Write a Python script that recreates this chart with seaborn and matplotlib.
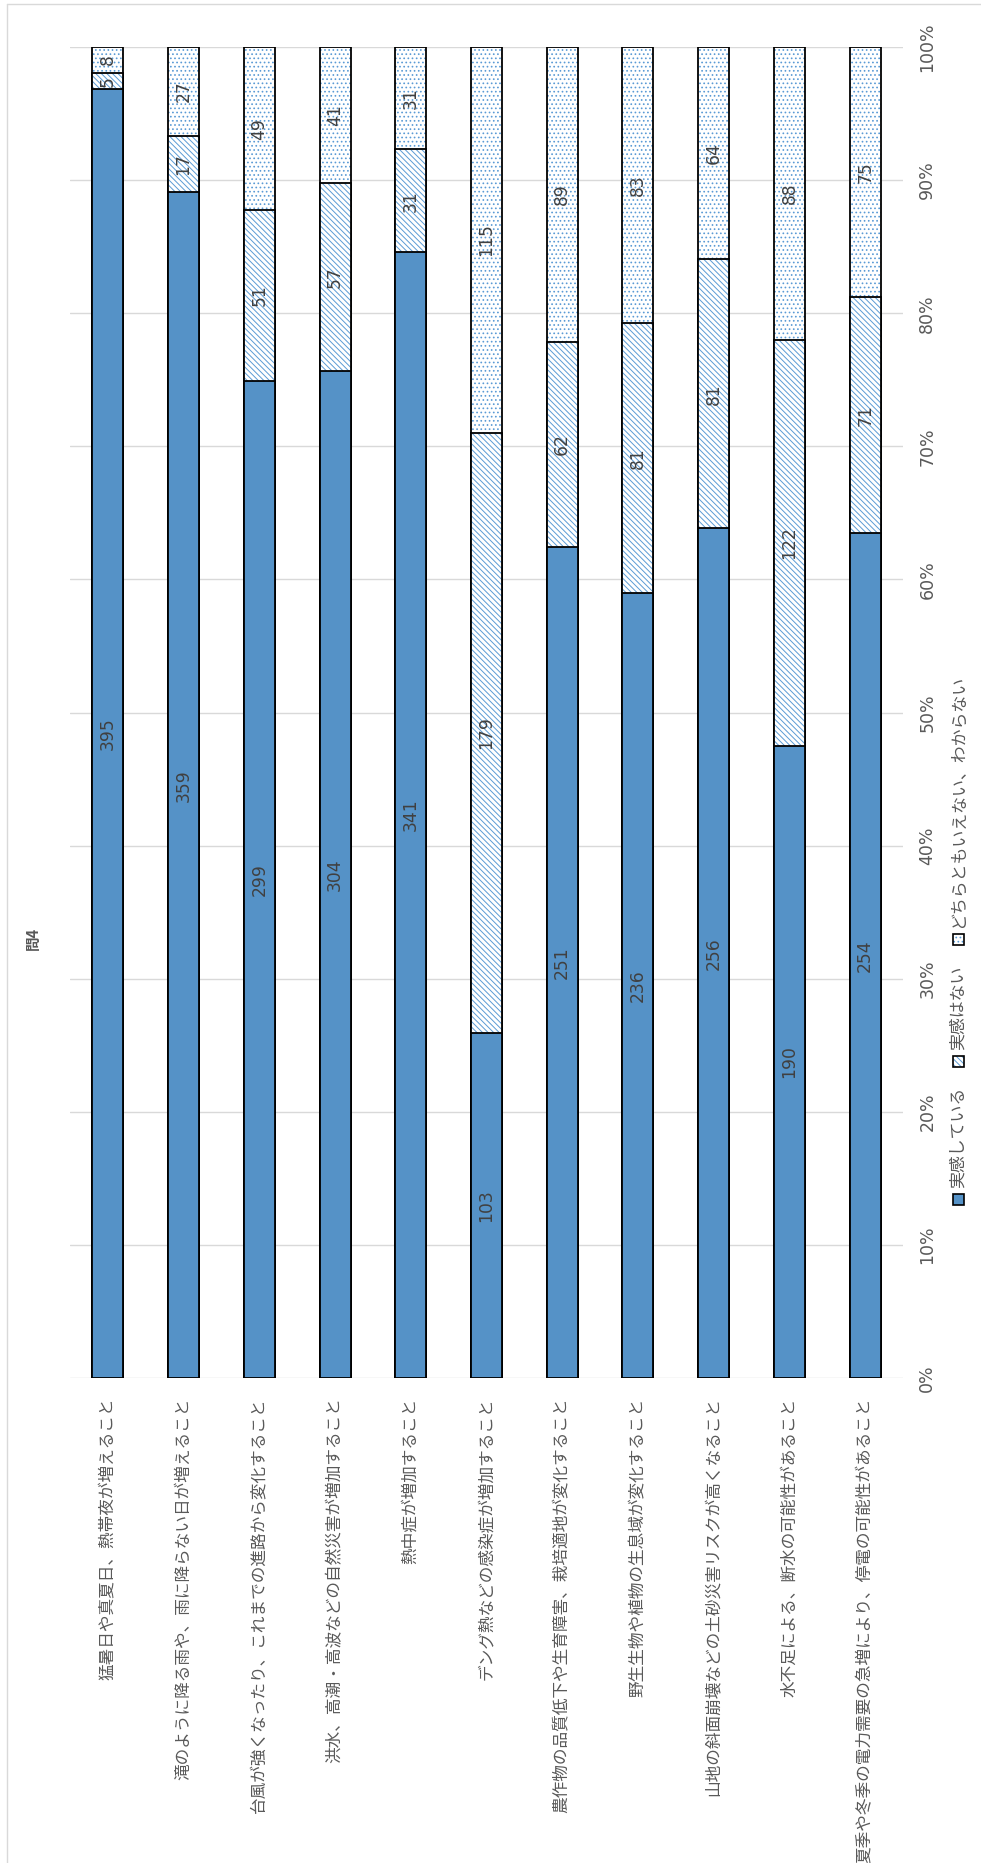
import matplotlib
matplotlib.use("Agg")
import matplotlib.pyplot as plt
import numpy as np
import pandas as pd
import seaborn as sns
from matplotlib.patches import Rectangle
from matplotlib.lines import Line2D

# ---- data -------------------------------------------------------------
title = "問4"
categories = [
    "猛暑日や真夏日、熱帯夜が増えること",
    "滝のように降る雨や、雨に降らない日が増えること",
    "台風が強くなったり、これまでの進路から変化すること",
    "洪水、高潮・高波などの自然災害が増加すること",
    "熱中症が増加すること",
    "デング熱などの感染症が増加すること",
    "農作物の品質低下や生育障害、栽培適地が変化すること",
    "野生生物や植物の生息域が変化すること",
    "山地の斜面崩壊などの土砂災害リスクが高くなること",
    "水不足による、断水の可能性があること",
    "夏季や冬季の電力需要の急増により、停電の可能性があること",
]
felt = [395, 359, 299, 304, 341, 103, 251, 236, 256, 190, 254]
not_felt = [5, 17, 51, 57, 31, 179, 62, 81, 81, 122, 71]
unsure = [8, 27, 49, 41, 31, 115, 89, 83, 64, 88, 75]
series_names = ["実感している", "実感はない", "どちらともいえない、わからない"]
pct_ticks = [0, 10, 20, 30, 40, 50, 60, 70, 80, 90, 100]

# ---- style ------------------------------------------------------------
sns.set_theme(style="white")
plt.rcParams["font.family"] = ["Noto Sans CJK JP", "DejaVu Sans"]
plt.rcParams["hatch.linewidth"] = 0.7

BLUE = "#5592C7"
HATCH = "#5B9BD5"
TEXT = "#595959"
LABEL = "#404040"
GRID = "#D9D9D9"

W, H, DPI = 981, 1863, 100
fig = plt.figure(figsize=(W / DPI, H / DPI), dpi=DPI)
fig.patch.set_facecolor("white")

def fx(px):
    return px / W

def fy(py):
    return 1 - py / H

# plot area in pixel coordinates
L, R, T, B = 70, 903, 47, 1378
ax = fig.add_axes([fx(L), fy(B), fx(R - L), (B - T) / H])

df = pd.DataFrame({"category": categories, "felt": felt,
                   "not_felt": not_felt, "unsure": unsure})
df["total"] = df[["felt", "not_felt", "unsure"]].sum(axis=1)
df["p1"] = df["felt"] / df["total"] * 100
df["p2"] = (df["felt"] + df["not_felt"]) / df["total"] * 100
df["p3"] = (df["felt"] + df["not_felt"] + df["unsure"]) / df["total"] * 100

BW = 0.41
DIAG = "\\\\\\\\\\\\"
DOTS = "...."
layers = [("p3", "white", DOTS), ("p2", "white", DIAG), ("p1", BLUE, None)]
for col, face, hatch in layers:
    if hatch:
        sns.barplot(data=df, x="category", y=col, ax=ax, width=BW,
                    color=face, saturation=1, edgecolor=HATCH,
                    linewidth=0, hatch=hatch, errorbar=None)
    else:
        sns.barplot(data=df, x="category", y=col, ax=ax, width=BW,
                    color=face, saturation=1, linewidth=0, errorbar=None)
    # black outline of the segment stack
    sns.barplot(data=df, x="category", y=col, ax=ax, width=BW,
                color="black", fill=False, linewidth=1.3, errorbar=None)

# value labels centred in each segment
for i, row in df.iterrows():
    bounds = [0, row["p1"], row["p2"], row["p3"]]
    vals = [row["felt"], row["not_felt"], row["unsure"]]
    for k in range(3):
        ax.text(i, (bounds[k] + bounds[k + 1]) / 2, f"{vals[k]}",
                rotation=90, ha="center", va="center", fontsize=12.3,
                color=LABEL, family=["DejaVu Sans"])

ax.set_xlim(-0.5, len(categories) - 0.5)
ax.set_ylim(0, 100)
ax.set_xlabel("")
ax.set_ylabel("")
for s in ax.spines.values():
    s.set_visible(False)

ax.set_yticks(pct_ticks)
ax.set_yticklabels([f"{t}%" for t in pct_ticks], rotation=90,
                   va="center", fontsize=12.5, color=TEXT,
                   family=["DejaVu Sans"])
ax.yaxis.tick_right()
ax.tick_params(axis="y", length=0, pad=11)
ax.yaxis.grid(True, color=GRID, linewidth=1)
ax.set_axisbelow(True)

ax.set_xticks(range(len(categories)))
ax.set_xticklabels(categories, rotation=90, ha="center", va="top",
                   fontsize=12, color=TEXT)
ax.tick_params(axis="x", length=0, pad=14)

# chart title
fig.text(fx(33), fy(938), title, rotation=90, ha="center", va="center",
         fontsize=10.5, color=TEXT, fontweight="bold")

# legend drawn vertically (reads bottom to top)
fig.canvas.draw()
renderer = fig.canvas.get_renderer()
leg_x = 958
sq = 11
y_cur = 1205
styles = [(BLUE, None), ("white", DIAG), ("white", DOTS)]
for name, (face, hatch) in zip(series_names, styles):
    fig.add_artist(Rectangle((fx(leg_x - sq / 2), fy(y_cur)), sq / W, sq / H,
                             transform=fig.transFigure, facecolor=face,
                             edgecolor=HATCH if hatch else "none",
                             hatch=hatch, linewidth=0))
    fig.add_artist(Rectangle((fx(leg_x - sq / 2), fy(y_cur)), sq / W, sq / H,
                             transform=fig.transFigure, fill=False,
                             edgecolor="black", linewidth=1.2))
    y_cur -= sq + 6
    t = fig.text(fx(leg_x), fy(y_cur), name, rotation=90, ha="center",
                 va="bottom", fontsize=12.2, color=TEXT)
    ext = t.get_window_extent(renderer)
    y_cur -= ext.height + 20

# chart area frame (left and top edges)
fig.add_artist(Line2D([fx(7), fx(7)], [fy(4), 0], transform=fig.transFigure,
                      color=GRID, linewidth=1))
fig.add_artist(Line2D([fx(7), 1], [fy(4), fy(4)], transform=fig.transFigure,
                      color=GRID, linewidth=1))

fig.savefig("out.png", dpi=DPI, facecolor="white")
